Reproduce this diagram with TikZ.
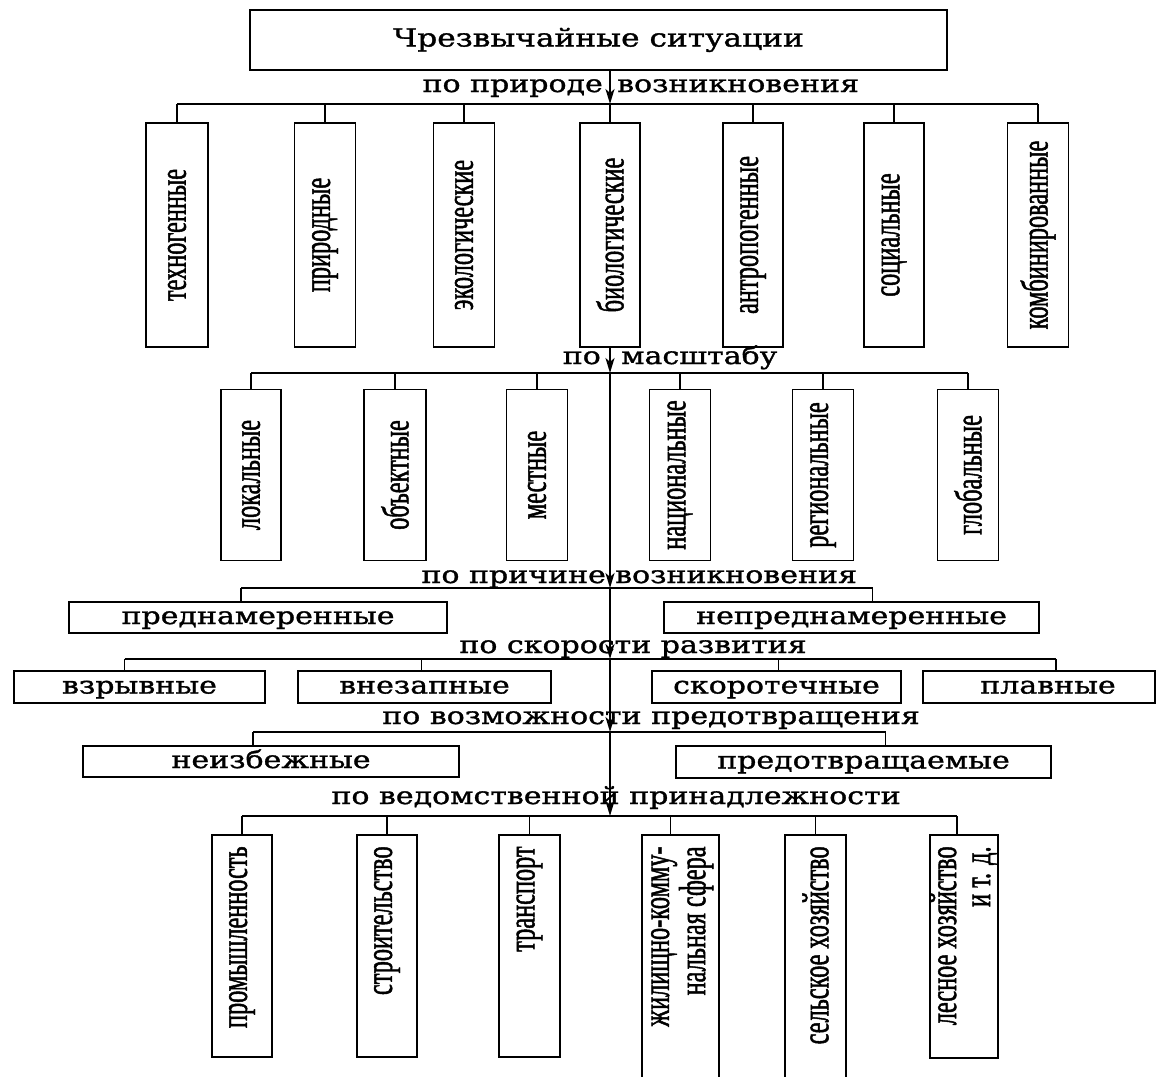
\documentclass[tikz,border=0pt]{standalone}
\usepackage{fontspec}
\newfontfamily\vfont[FakeStretch=0.64,FakeBold=1.2]{Liberation Serif}
\newfontfamily\hfont[FakeStretch=1.25,FakeBold=1.3]{DejaVu Serif}
\usetikzlibrary{arrows.meta,calc}
\begin{document}
\begin{tikzpicture}[x=1pt,y=-1pt,
  box/.style={draw, line width=1.6pt, inner sep=0pt},
  vbox/.style={box, font=\vfont\fontsize{38}{33}\selectfont},
  vtext/.style={inner sep=0pt, font=\vfont\fontsize{38}{33}\selectfont},
  hbox/.style={box, font=\hfont\fontsize{24}{28}\selectfont, text height=13pt, text depth=0pt},
  cat/.style={inner sep=0pt, font=\hfont\fontsize{24}{28}\selectfont},
  conn/.style={line width=1.3pt},
  trunk/.style={line width=1.8pt},
  arr/.style={trunk, -{Stealth[length=15pt,width=9pt,inset=4pt]}}
]
\useasboundingbox (0,0) rectangle (1161,1076);
\fill[white] (0,0) rectangle (1161,1076);

% title
\node[box, minimum width=697pt, minimum height=60pt, font=\hfont\fontsize{25}{28}\selectfont, text height=13pt, text depth=0pt] (top) at (598.5,40) {Чрезвычайные ситуации};

% row 1
\node[vbox, minimum width=62pt, minimum height=224pt] (tex)  at (177,235)  {\rotatebox{90}{техногенные}};
\node[vbox, minimum width=61pt, minimum height=224pt] (prir) at (325,235)  {\rotatebox{90}{природные}};
\node[vbox, minimum width=61pt, minimum height=224pt] (eko)  at (464,235)  {\rotatebox{90}{экологические}};
\node[vbox, minimum width=60pt, minimum height=224pt] (bio)  at (610,235)  {\rotatebox{90}{биологические}};
\node[vbox, minimum width=60pt, minimum height=224pt] (antr) at (753,235)  {\rotatebox{90}{антропогенные}};
\node[vbox, minimum width=60pt, minimum height=224pt] (soc)  at (894,235)  {\rotatebox{90}{социальные}};
\node[vbox, minimum width=61pt, minimum height=224pt] (komb) at (1038,235) {\rotatebox{90}{комбинированные}};

% row 2
\node[vbox, minimum width=60pt, minimum height=171pt] (lok)  at (251,475) {\rotatebox{90}{локальные}};
\node[vbox, minimum width=62pt, minimum height=171pt] (obj)  at (395,475) {\rotatebox{90}{объектные}};
\node[vbox, minimum width=61pt, minimum height=171pt] (mest) at (537,475) {\rotatebox{90}{местные}};
\node[vbox, minimum width=61pt, minimum height=171pt] (nac)  at (680,475) {\rotatebox{90}{национальные}};
\node[vbox, minimum width=61pt, minimum height=171pt] (reg)  at (823,475) {\rotatebox{90}{региональные}};
\node[vbox, minimum width=61pt, minimum height=171pt] (glob) at (968,475) {\rotatebox{90}{глобальные}};

% horizontal boxes
\node[hbox, minimum width=378pt, minimum height=31pt] (pred)    at (258,617.5)   {преднамеренные};
\node[hbox, minimum width=375pt, minimum height=31pt] (nepred)  at (851.5,617.5) {непреднамеренные};
\node[hbox, minimum width=251pt, minimum height=32pt] (vzr)     at (139.5,687)   {взрывные};
\node[hbox, minimum width=253pt, minimum height=32pt] (vnez)    at (424.5,687)   {внезапные};
\node[hbox, minimum width=249pt, minimum height=32pt] (skor)    at (776.5,687)   {скоротечные};
\node[hbox, minimum width=232pt, minimum height=32pt] (plav)    at (1039,687)    {\hspace*{18pt}плавные};
\node[hbox, minimum width=376pt, minimum height=31pt] (neizb)   at (271,761.5)   {неизбежные};
\node[hbox, minimum width=375pt, minimum height=32pt] (predotv) at (863.5,762)   {предотвращаемые};

% bottom row
\node[box, minimum width=60pt, minimum height=222pt] (prom)  at (242,946)   {};
\node[box, minimum width=60pt, minimum height=222pt] (stroi) at (387,946)   {};
\node[box, minimum width=61pt, minimum height=222pt] (trans) at (529.5,946) {};
\node[box, minimum width=77pt, minimum height=265pt] (zhil)  at (680.5,967.5) {};
\node[box, minimum width=61pt, minimum height=265pt] (sel)   at (815.5,967.5) {};
\node[box, minimum width=68pt, minimum height=223pt] (les)   at (964,946.5) {};
\node[vtext, anchor=north] (prom-t)  at ([yshift=-12pt]prom.north)  {\rotatebox{90}{промышленность}};
\node[vtext, anchor=north] (stroi-t) at ([yshift=-12pt]stroi.north) {\rotatebox{90}{строительство}};
\node[vtext, anchor=north] (trans-t) at ([yshift=-12pt]trans.north) {\rotatebox{90}{транспорт}};
\node[vtext, anchor=north] (zhil-t)  at ([yshift=-12pt]zhil.north)  {\rotatebox{90}{\begin{tabular}{@{}r@{}}жилищно-комму-\\нальная сфера\end{tabular}}};
\node[vtext, anchor=north] (sel-t)   at ([yshift=-12pt]sel.north)   {\rotatebox{90}{сельское хозяйство}};
\node[vtext, anchor=north] (les-t)   at ([xshift=1pt,yshift=-12pt]les.north) {\rotatebox{90}{\begin{tabular}{@{}r@{}}лесное хозяйство\\[1pt]и т. д.\end{tabular}}};

% category labels
\node[cat, anchor=base east] (c1a) at (603,92)  {по природе};
\node[cat, anchor=base west] (c1b) at (617,92)  {возникновения};
\node[cat, anchor=base east] (c2a) at (601,364) {по};
\node[cat, anchor=base west] (c2b) at (621,364) {масштабу};
\node[cat, anchor=base east] (c3a) at (606,583) {по причине};
\node[cat, anchor=base west] (c3b) at (615,583) {возникновения};
\node[cat, anchor=base] (c4) at (633,653) {по скорости развития};
\node[cat, anchor=base] (c5) at (651,724) {по возможности предотвращения};
\node[cat, anchor=base] (c6) at (616,804) {по ведомственной принадлежности};

% trunk
\coordinate (b1) at (610,104);
\coordinate (b2) at (610,373);
\coordinate (b3) at (610,588);
\coordinate (b4) at (610,659);
\coordinate (b5) at (610,732);
\coordinate (b6) at (610,816);
\draw[arr] (top.south -| b1) -- (b1);
\draw[trunk] (b1) -- (bio.north);
\draw[arr] (bio.south) -- (b2);
\draw[arr] (b2) -- (b3);
\draw[arr] (b3) -- (b4);
\draw[arr] (b4) -- (b5);
\draw[arr] (b5) -- (b6);

% row 1 bus
\draw[conn] (tex.north |- b1) -- (komb.north |- b1);
\foreach \n in {tex,prir,eko,antr,soc,komb} \draw[conn] (\n.north) -- (\n.north |- b1);
% row 2 bus
\draw[conn] (lok.north |- b2) -- (glob.north |- b2);
\foreach \n in {lok,obj,mest,nac,reg,glob} \draw[conn] (\n.north) -- (\n.north |- b2);
% row 3
\coordinate (s-pred) at ([xshift=-17pt]pred.north);
\coordinate (s-nepred) at ([xshift=21pt]nepred.north);
\draw[conn] (s-pred |- b3) -- (s-nepred |- b3);
\draw[conn] (s-pred) -- (s-pred |- b3);
\draw[conn] (s-nepred) -- (s-nepred |- b3);
% row 4
\coordinate (s-vzr) at ([xshift=-15pt]vzr.north);
\coordinate (s-vnez) at ([xshift=-3pt]vnez.north);
\coordinate (s-skor) at ([xshift=2pt]skor.north);
\coordinate (s-plav) at ([xshift=17pt]plav.north);
\draw[conn] (s-vzr |- b4) -- (s-plav |- b4);
\foreach \n in {vzr,vnez,skor,plav} \draw[conn] (s-\n) -- (s-\n |- b4);
% row 5
\coordinate (s-neizb) at ([xshift=-18pt]neizb.north);
\coordinate (s-predotv) at ([xshift=22pt]predotv.north);
\draw[conn] (s-neizb |- b5) -- (s-predotv |- b5);
\draw[conn] (s-neizb) -- (s-neizb |- b5);
\draw[conn] (s-predotv) -- (s-predotv |- b5);
% row 6
\coordinate (s-prom) at (prom.north);
\coordinate (s-stroi) at (stroi.north);
\coordinate (s-trans) at (trans.north);
\coordinate (s-zhil) at ([xshift=-10pt]zhil.north);
\coordinate (s-sel) at (sel.north);
\coordinate (s-les) at ([xshift=-7pt]les.north);
\draw[conn] (s-prom |- b6) -- (s-les |- b6);
\foreach \n in {prom,stroi,trans,zhil,sel,les} \draw[conn] (s-\n) -- (s-\n |- b6);
\end{tikzpicture}
\end{document}
